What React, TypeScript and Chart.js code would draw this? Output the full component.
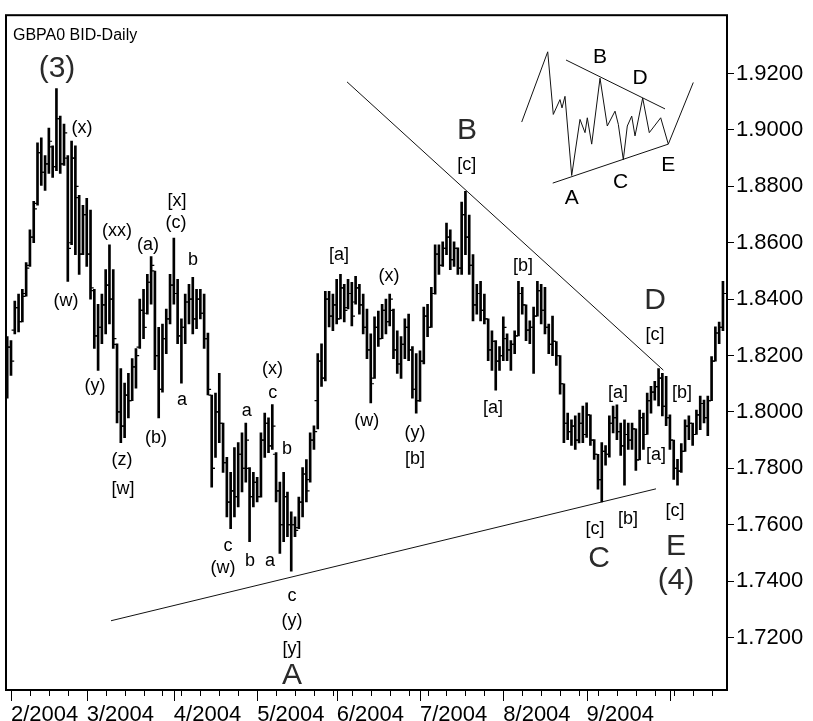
import React, { useEffect, useRef } from 'react';
import { Chart, registerables } from 'chart.js';

Chart.register(...registerables);

const FONT = '"Liberation Sans", Arial, Helvetica, sans-serif';
const TITLE = 'GBPA0 BID-Daily';

// Daily bars, Jan 30 2004 (index 0) .. Oct 21 2004 (index 189), weekdays only
const HIGH = [
  1.8267, 1.8253, 1.8393, 1.8418, 1.8435, 1.8530, 1.8646, 1.8747, 1.8954, 1.8972,
  1.8909, 1.9007, 1.8944, 1.9147, 1.9049, 1.9021, 1.8909, 1.8961, 1.8944, 1.8768,
  1.8733, 1.8758, 1.8716, 1.8435, 1.8382, 1.8418, 1.8505, 1.8593, 1.8505, 1.8242,
  1.8154, 1.8102, 1.8137, 1.8189, 1.8225, 1.8400, 1.8435, 1.8488, 1.8551, 1.8500,
  1.8300, 1.8312, 1.8365, 1.8488, 1.8617, 1.8470, 1.8330, 1.8418, 1.8453, 1.8477,
  1.8435, 1.8435, 1.8418, 1.8280, 1.8060, 1.8067, 1.8137, 1.7961, 1.7839, 1.7786,
  1.7874, 1.7891, 1.7926, 1.7961, 1.7803, 1.7786, 1.7768, 1.7926, 1.7996, 1.7979,
  1.8026, 1.7856, 1.7751, 1.7786, 1.7716, 1.7646, 1.7628, 1.7698, 1.7803, 1.7831,
  1.7926, 1.7951, 1.8207, 1.8242, 1.8428, 1.8428, 1.8418, 1.8470, 1.8488, 1.8453,
  1.8470, 1.8460, 1.8481, 1.8453, 1.8418, 1.8365, 1.8277, 1.8337, 1.8358, 1.8382,
  1.8400, 1.8418, 1.8365, 1.8288, 1.8267, 1.8330, 1.8347, 1.8232, 1.8207, 1.8217,
  1.8372, 1.8382, 1.8442, 1.8593, 1.8593, 1.8603, 1.8670, 1.8646, 1.8603, 1.8582,
  1.8744, 1.8782, 1.8698, 1.8558, 1.8453, 1.8463, 1.8418, 1.8330, 1.8288, 1.8253,
  1.8232, 1.8337, 1.8277, 1.8253, 1.8288, 1.8463, 1.8442, 1.8380, 1.8323, 1.8372,
  1.8463, 1.8453, 1.8442, 1.8312, 1.8340, 1.8250, 1.8200, 1.8100, 1.7996, 1.7972,
  1.7986, 1.7996, 1.8021, 1.8032, 1.7990, 1.7902, 1.7850, 1.7891, 1.7881, 1.7986,
  1.8021, 1.8025, 1.7961, 1.7972, 1.7961, 1.7961, 1.7940, 1.8007, 1.7996, 1.8067,
  1.8091, 1.8109, 1.8154, 1.8137, 1.8126, 1.7990, 1.7900, 1.7832, 1.7888, 1.7972,
  1.7986, 1.7961, 1.8007, 1.8056, 1.8042, 1.8056, 1.8196, 1.8302, 1.8319, 1.8463,
];

const LOW = [
  1.8049, 1.8130, 1.8277, 1.8284, 1.8319, 1.8411, 1.8516, 1.8600, 1.8733, 1.8803,
  1.8786, 1.8846, 1.8832, 1.8856, 1.8846, 1.8874, 1.8463, 1.8593, 1.8558, 1.8488,
  1.8558, 1.8516, 1.8400, 1.8225, 1.8147, 1.8242, 1.8277, 1.8312, 1.8225, 1.7961,
  1.7891, 1.7909, 1.7979, 1.8040, 1.8084, 1.8225, 1.8260, 1.8347, 1.8382, 1.8150,
  1.7979, 1.8070, 1.8207, 1.8312, 1.8382, 1.8242, 1.8102, 1.8242, 1.8312, 1.8277,
  1.8295, 1.8330, 1.8225, 1.8060, 1.7733, 1.7839, 1.7891, 1.7786, 1.7628, 1.7586,
  1.7628, 1.7663, 1.7716, 1.7751, 1.7540, 1.7663, 1.7681, 1.7698, 1.7839, 1.7856,
  1.7867, 1.7681, 1.7498, 1.7540, 1.7558, 1.7435, 1.7558, 1.7586, 1.7628, 1.7681,
  1.7751, 1.7867, 1.7940, 1.8091, 1.8110, 1.8302, 1.8288, 1.8312, 1.8330, 1.8319,
  1.8365, 1.8305, 1.8382, 1.8347, 1.8277, 1.8189, 1.8032, 1.8119, 1.8232, 1.8260,
  1.8277, 1.8305, 1.8189, 1.8137, 1.8119, 1.8189, 1.8182, 1.8049, 1.7996, 1.8037,
  1.8170, 1.8267, 1.8300, 1.8418, 1.8488, 1.8516, 1.8558, 1.8505, 1.8516, 1.8488,
  1.8488, 1.8558, 1.8488, 1.8323, 1.8347, 1.8323, 1.8312, 1.8182, 1.8147, 1.8077,
  1.8147, 1.8182, 1.8182, 1.8147, 1.8207, 1.8270, 1.8347, 1.8253, 1.8242, 1.8137,
  1.8340, 1.8312, 1.8277, 1.8207, 1.8200, 1.8165, 1.8063, 1.7891, 1.7902, 1.7881,
  1.7867, 1.7890, 1.7891, 1.7910, 1.7881, 1.7832, 1.7726, 1.7681, 1.7811, 1.7840,
  1.7926, 1.7902, 1.7846, 1.7740, 1.7867, 1.7867, 1.7793, 1.7830, 1.7867, 1.7920,
  1.7996, 1.8042, 1.8021, 1.7986, 1.7951, 1.7867, 1.7761, 1.7740, 1.7786, 1.7860,
  1.7902, 1.7881, 1.7920, 1.7937, 1.7961, 1.7916, 1.8040, 1.8180, 1.8242, 1.8288,
];

const OPEN = [
  1.8080, 1.8230, 1.8290, 1.8370, 1.8320, 1.8420, 1.8520, 1.8620, 1.8740, 1.8920,
  1.8850, 1.8880, 1.8940, 1.8870, 1.9040, 1.8880, 1.8900, 1.8600, 1.8900, 1.8760,
  1.8560, 1.8700, 1.8560, 1.8430, 1.8270, 1.8300, 1.8380, 1.8450, 1.8400, 1.8240,
  1.8000, 1.7950, 1.8060, 1.8040, 1.8160, 1.8230, 1.8360, 1.8350, 1.8460, 1.8500,
  1.8200, 1.8080, 1.8260, 1.8330, 1.8450, 1.8420, 1.8270, 1.8300, 1.8390, 1.8400,
  1.8330, 1.8400, 1.8350, 1.8260, 1.8060, 1.7800, 1.8000, 1.7960, 1.7820, 1.7680,
  1.7720, 1.7700, 1.7850, 1.7800, 1.7800, 1.7700, 1.7750, 1.7700, 1.7900, 1.7960,
  1.7880, 1.7850, 1.7720, 1.7600, 1.7700, 1.7600, 1.7600, 1.7590, 1.7680, 1.7780,
  1.7760, 1.7900, 1.8040, 1.8180, 1.8120, 1.8400, 1.8340, 1.8380, 1.8330, 1.8440,
  1.8370, 1.8420, 1.8390, 1.8440, 1.8380, 1.8300, 1.8220, 1.8120, 1.8300, 1.8260,
  1.8360, 1.8320, 1.8360, 1.8220, 1.8170, 1.8240, 1.8300, 1.8220, 1.8080, 1.8040,
  1.8180, 1.8340, 1.8300, 1.8420, 1.8560, 1.8520, 1.8580, 1.8620, 1.8540, 1.8580,
  1.8510, 1.8700, 1.8620, 1.8520, 1.8380, 1.8420, 1.8360, 1.8330, 1.8220, 1.8250,
  1.8180, 1.8200, 1.8260, 1.8220, 1.8240, 1.8270, 1.8420, 1.8380, 1.8290, 1.8300,
  1.8340, 1.8430, 1.8360, 1.8300, 1.8240, 1.8250, 1.8200, 1.8100, 1.7960, 1.7930,
  1.7950, 1.7900, 1.7960, 1.7920, 1.7990, 1.7900, 1.7850, 1.7760, 1.7860, 1.7850,
  1.7960, 1.7980, 1.7930, 1.7880, 1.7920, 1.7900, 1.7940, 1.7830, 1.7980, 1.7920,
  1.8040, 1.8070, 1.8090, 1.8120, 1.8020, 1.7980, 1.7900, 1.7800, 1.7790, 1.7860,
  1.7950, 1.7960, 1.7920, 1.7990, 1.8030, 1.7980, 1.8040, 1.8180, 1.8280, 1.8300,
];

const CLOSE = [
  1.8230, 1.8180, 1.8370, 1.8320, 1.8410, 1.8510, 1.8620, 1.8720, 1.8920, 1.8850,
  1.8880, 1.8960, 1.8870, 1.9040, 1.8880, 1.8990, 1.8580, 1.8900, 1.8800, 1.8560,
  1.8700, 1.8560, 1.8440, 1.8270, 1.8300, 1.8380, 1.8450, 1.8400, 1.8260, 1.8000,
  1.7950, 1.8060, 1.8040, 1.8160, 1.8200, 1.8360, 1.8300, 1.8460, 1.8520, 1.8200,
  1.8080, 1.8260, 1.8330, 1.8450, 1.8420, 1.8270, 1.8300, 1.8390, 1.8400, 1.8330,
  1.8400, 1.8350, 1.8260, 1.8080, 1.7800, 1.8000, 1.7960, 1.7820, 1.7680, 1.7720,
  1.7700, 1.7850, 1.7800, 1.7900, 1.7700, 1.7750, 1.7700, 1.7900, 1.7960, 1.7880,
  1.7950, 1.7720, 1.7600, 1.7700, 1.7600, 1.7600, 1.7580, 1.7680, 1.7780, 1.7720,
  1.7900, 1.7930, 1.8180, 1.8120, 1.8400, 1.8340, 1.8380, 1.8330, 1.8440, 1.8360,
  1.8420, 1.8340, 1.8440, 1.8380, 1.8300, 1.8220, 1.8100, 1.8300, 1.8260, 1.8360,
  1.8320, 1.8400, 1.8220, 1.8170, 1.8240, 1.8300, 1.8220, 1.8080, 1.8040, 1.8180,
  1.8340, 1.8300, 1.8420, 1.8560, 1.8520, 1.8580, 1.8620, 1.8540, 1.8580, 1.8510,
  1.8700, 1.8620, 1.8520, 1.8380, 1.8420, 1.8360, 1.8330, 1.8220, 1.8250, 1.8180,
  1.8200, 1.8300, 1.8220, 1.8240, 1.8270, 1.8420, 1.8380, 1.8290, 1.8300, 1.8340,
  1.8430, 1.8360, 1.8300, 1.8240, 1.8250, 1.8200, 1.8100, 1.7960, 1.7930, 1.7950,
  1.7900, 1.7960, 1.7920, 1.7990, 1.7900, 1.7850, 1.7760, 1.7860, 1.7850, 1.7960,
  1.7980, 1.7930, 1.7880, 1.7920, 1.7900, 1.7940, 1.7830, 1.7980, 1.7920, 1.8040,
  1.8070, 1.8090, 1.8120, 1.8020, 1.7980, 1.7900, 1.7800, 1.7790, 1.7860, 1.7950,
  1.7960, 1.7920, 1.7990, 1.8030, 1.7980, 1.8040, 1.8180, 1.8280, 1.8300, 1.8420,
];

// x-axis: first trading day of each month (index) and its label
const MONTH_TICK_INDEX = [1, 21, 44, 66, 87, 109, 131, 153, 175];
const MONTH_TICK_LABELS = ['2/2004', '3/2004', '4/2004', '5/2004', '6/2004', '7/2004', '8/2004', '9/2004', ''];
// weekly (Monday) minor ticks
const WEEK_TICK_INDEX = [
  1, 6, 11, 16, 21, 26, 31, 36, 41, 46, 51, 56, 61, 66, 71, 76, 81, 86, 91,
  96, 101, 106, 111, 116, 121, 126, 131, 136, 141, 146, 151, 156, 161, 166, 171, 176, 181, 186,
];
const PRICE_TICKS = [1.72, 1.74, 1.76, 1.78, 1.80, 1.82, 1.84, 1.86, 1.88, 1.90, 1.92];

const X_MIN = -0.32;
const X_MAX = 190.07;
const Y_MIN = 1.7014;
const Y_MAX = 1.9407;

// trend lines [index, price]
const UPPER_LINE = [[89.73, 1.91705], [173.25, 1.81484]];
const LOWER_LINE = [[27.41, 1.72596], [171.32, 1.77274]];

// inset triangle sketch (in chart coordinates)
const INSET_ZIGZAG = [
  [135.86, 1.90281], [142.73, 1.92772], [144.20, 1.90551], [145.97, 1.91077], [146.50, 1.90782],
  [147.29, 1.91193], [149.06, 1.88386], [151.25, 1.90375], [152.58, 1.89905], [153.18, 1.90432],
  [154.34, 1.89498], [156.54, 1.91835], [158.46, 1.90140], [160.50, 1.90667], [161.37, 1.90200],
  [162.69, 1.88947], [163.74, 1.90140], [164.91, 1.90491], [165.78, 1.89789], [167.81, 1.91133],
  [169.55, 1.89905], [172.56, 1.90432], [174.57, 1.89498], [181.17, 1.91684],
];
const INSET_UPPER = [[147.56, 1.92481], [173.70, 1.90747]];
const INSET_LOWER = [[144.05, 1.88116], [174.57, 1.89498]];

// wave labels: [text, index, price, fontSize]
const WAVE_LABELS: [string, number, number, number][] = [
  ['(3)', 13.15, 1.9218, 30],
  ['(x)', 19.75, 1.9007, 18],
  ['(w)', 15.53, 1.8393, 18],
  ['(xx)', 28.99, 1.8642, 18],
  ['(a)', 37.18, 1.8593, 18],
  ['[x]', 44.84, 1.8747, 18],
  ['(c)', 44.57, 1.8670, 18],
  ['b', 49.06, 1.8537, 18],
  ['(y)', 23.19, 1.8091, 18],
  ['a', 46.16, 1.8042, 18],
  ['(b)', 39.29, 1.7909, 18],
  ['(z)', 30.31, 1.7828, 18],
  ['[w]', 30.58, 1.7726, 18],
  ['a', 63.24, 1.8004, 18],
  ['(x)', 70.06, 1.8151, 18],
  ['c', 70.11, 1.8067, 18],
  ['b', 73.88, 1.7867, 18],
  ['c', 58.30, 1.7523, 18],
  ['(w)', 56.98, 1.7446, 18],
  ['b', 64.11, 1.7470, 18],
  ['a', 69.39, 1.7470, 18],
  ['c', 75.20, 1.7347, 18],
  ['(y)', 75.20, 1.7260, 18],
  ['[y]', 75.20, 1.7161, 18],
  ['A', 75.20, 1.7063, 30],
  ['[a]', 87.61, 1.8558, 18],
  ['(x)', 100.82, 1.8482, 18],
  ['(w)', 94.93, 1.7968, 18],
  ['(y)', 107.68, 1.7926, 18],
  ['[b]', 107.68, 1.7832, 18],
  ['B', 121.41, 1.8996, 30],
  ['[c]', 121.33, 1.8874, 18],
  ['[b]', 136.20, 1.8517, 18],
  ['[a]', 128.28, 1.8014, 18],
  ['D', 171.06, 1.8394, 30],
  ['[c]', 171.06, 1.8274, 18],
  ['[a]', 161.29, 1.8067, 18],
  ['[b]', 178.19, 1.8067, 18],
  ['[a]', 171.32, 1.7849, 18],
  ['[c]', 155.22, 1.7586, 18],
  ['[b]', 163.93, 1.7621, 18],
  ['[c]', 176.34, 1.7649, 18],
  ['C', 156.27, 1.7481, 30],
  ['E', 176.60, 1.7523, 30],
  ['(4)', 176.60, 1.7400, 30],
  ['B', 156.54, 1.9257, 21],
  ['D', 167.10, 1.9184, 21],
  ['A', 149.06, 1.8757, 21],
  ['C', 162.00, 1.8815, 21],
  ['E', 174.57, 1.8874, 21],
];

const toXY = (pts: number[][]) => pts.map(([x, y]) => ({ x, y }));

const overlayPlugin = {
  id: 'overlay',
  afterDatasetsDraw(chart: any) {
    const { ctx, chartArea, scales } = chart;
    const xs = scales.x;
    const ys = scales.y;
    ctx.save();
    ctx.textAlign = 'center';
    ctx.textBaseline = 'middle';
    for (const [t, i, p, s] of WAVE_LABELS) {
      ctx.fillStyle = s >= 30 ? '#2a2a2a' : '#000';
      ctx.font = `${s}px ${FONT}`;
      ctx.fillText(t, xs.getPixelForValue(i), ys.getPixelForValue(p));
    }
    ctx.fillStyle = '#000';
    ctx.textAlign = 'left';
    ctx.textBaseline = 'alphabetic';
    ctx.font = `16px ${FONT}`;
    ctx.fillText(TITLE, chartArea.left + 7, chartArea.top + 25);
    ctx.restore();
  },
  afterDraw(chart: any) {
    const { ctx, chartArea, scales } = chart;
    const xs = scales.x;
    ctx.save();
    ctx.strokeStyle = '#000';
    ctx.lineWidth = 1;
    ctx.beginPath();
    for (const i of WEEK_TICK_INDEX) {
      const px = Math.round(xs.getPixelForValue(i)) + 0.5;
      ctx.moveTo(px, chartArea.bottom);
      ctx.lineTo(px, chartArea.bottom + 6);
    }
    for (const i of MONTH_TICK_INDEX) {
      const px = Math.round(xs.getPixelForValue(i)) + 0.5;
      ctx.moveTo(px, chartArea.bottom);
      ctx.lineTo(px, chartArea.bottom + 11);
    }
    ctx.stroke();
    ctx.lineWidth = 2;
    ctx.strokeRect(chartArea.left, chartArea.top, chartArea.right - chartArea.left, chartArea.bottom - chartArea.top);
    ctx.restore();
  },
};

export default function App() {
  const ref = useRef<HTMLCanvasElement>(null);

  useEffect(() => {
    document.body.style.margin = '0';
    const canvas = ref.current;
    if (!canvas) return;

    const lineDs = (pts: number[][]) => ({
      type: 'line' as const,
      data: toXY(pts),
      borderColor: '#111',
      borderWidth: 1,
      pointRadius: 0,
      tension: 0,
      fill: false,
    });

    const chart = new Chart(canvas, {
      type: 'bar',
      data: {
        datasets: [
          {
            type: 'bar',
            data: HIGH.map((h, i) => ({ x: i, y: [LOW[i], h] })) as any,
            backgroundColor: '#000',
            borderWidth: 0,
            barThickness: 2,
            grouped: false,
          },
          {
            type: 'scatter',
            data: OPEN.map((o, i) => ({ x: i - 0.5, y: o })),
            pointStyle: 'line',
            pointRadius: 1.3,
            borderColor: '#000',
            borderWidth: 1.2,
          },
          {
            type: 'scatter',
            data: CLOSE.map((c, i) => ({ x: i + 0.5, y: c })),
            pointStyle: 'line',
            pointRadius: 1.3,
            borderColor: '#000',
            borderWidth: 1.2,
          },
          lineDs(UPPER_LINE),
          lineDs(LOWER_LINE),
          lineDs(INSET_ZIGZAG),
          lineDs(INSET_UPPER),
          lineDs(INSET_LOWER),
        ] as any,
      },
      options: {
        responsive: false,
        animation: false,
        events: [],
        layout: { padding: { left: 6, top: 8, right: 0, bottom: 0 } },
        plugins: {
          legend: { display: false },
          tooltip: { enabled: false },
        },
        scales: {
          x: {
            type: 'linear',
            min: X_MIN,
            max: X_MAX,
            offset: false,
            grid: { display: false },
            border: { display: false },
            afterBuildTicks: (s: any) => {
              s.ticks = MONTH_TICK_INDEX.map((v) => ({ value: v }));
            },
            afterFit: (s: any) => {
              s.height = 31;
            },
            ticks: {
              autoSkip: false,
              maxRotation: 0,
              minRotation: 0,
              align: 'start',
              padding: 4,
              color: '#000',
              font: { family: FONT, size: 22 },
              callback: (v: any) => {
                const k = MONTH_TICK_INDEX.indexOf(Number(v));
                return k >= 0 ? MONTH_TICK_LABELS[k] : '';
              },
            },
          },
          y: {
            type: 'linear',
            position: 'right',
            min: Y_MIN,
            max: Y_MAX,
            beginAtZero: false,
            grid: { display: true, drawOnChartArea: false, drawTicks: true, tickLength: 7, color: '#000', lineWidth: 1 },
            border: { display: false },
            afterBuildTicks: (s: any) => {
              s.ticks = PRICE_TICKS.map((v) => ({ value: v }));
            },
            afterFit: (s: any) => {
              s.width = 86;
            },
            ticks: {
              autoSkip: false,
              padding: 2,
              color: '#000',
              font: { family: FONT, size: 22 },
              callback: (v: any) => Number(v).toFixed(4),
            },
          },
        },
      } as any,
      plugins: [overlayPlugin],
    });

    return () => chart.destroy();
  }, []);

  return (
    <div style={{ width: 813, height: 721 }}>
      <canvas ref={ref} width={813} height={721} style={{ display: 'block', width: 813, height: 721 }} />
    </div>
  );
}
